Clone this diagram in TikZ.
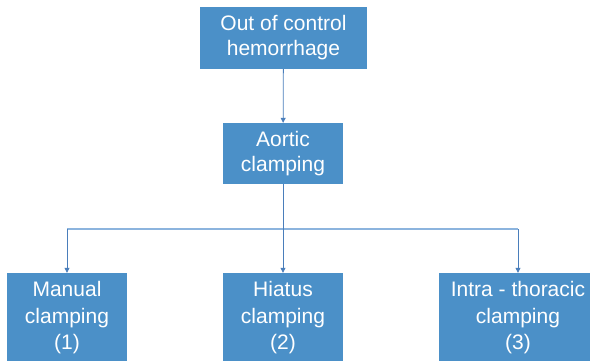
\documentclass[tikz,border=0pt]{standalone}
\usepackage{fontspec}
\setmainfont{Liberation Sans}
\usetikzlibrary{arrows.meta}
\definecolor{boxblue}{RGB}{75,144,200}
\definecolor{linkblue}{RGB}{74,126,187}
\definecolor{buslight}{RGB}{140,180,222}
\begin{document}
\begin{tikzpicture}[x=1pt,y=-1pt,
  block/.style={fill=boxblue, text=white, align=center, inner sep=0pt,
    font=\fontsize{21}{25}\selectfont},
  tallblock/.style={block, minimum height=90pt, font=\fontsize{21}{26.5}\selectfont},
  conn/.style={draw=linkblue, line width=0.8pt, -{Triangle[length=5pt,width=5pt]}},
  busline/.style={draw=buslight, line width=1.4pt}]
\useasboundingbox (0,0) rectangle (590,360);
\begin{scope}
\clip (0,0) rectangle (590,360);
\node[block, minimum width=167pt, minimum height=62pt] (top) at (283.5,38) {Out of control\\hemorrhage};
\node[block, minimum width=120pt, minimum height=61pt] (aortic) at (283,153.5) {Aortic\\clamping};
\node[tallblock, minimum width=120pt] (manual) at (67,318) {Manual\\clamping\\(1)};
\node[tallblock, minimum width=120pt] (hiatus) at (283,318) {Hiatus\\clamping\\(2)};
\node[tallblock, minimum width=158pt] (intra) at (518,318) {Intra - thoracic\\clamping\\(3)};
\end{scope}
% branching bus below the clamping node
\coordinate (busL) at (67,229);
\coordinate (busR) at (518,229);
\draw[busline] (busL) -- (busR);
\draw[conn] (top) -- (aortic);
\draw[conn] (aortic) -- (hiatus);
\draw[conn] (busL) -- (manual.north);
\draw[conn] (busR) -- (intra.north);
\end{tikzpicture}
\end{document}
